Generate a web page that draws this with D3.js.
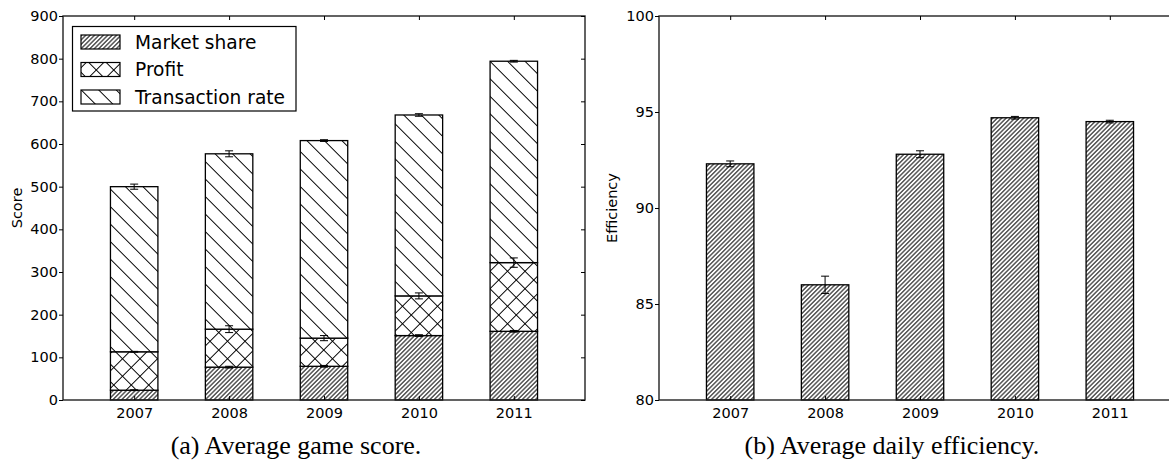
<!DOCTYPE html>
<html>
<head>
<meta charset="utf-8">
<script src="https://cdn.jsdelivr.net/npm/d3@7"></script>
<style>
  body { margin: 0; background: #fff; }
  svg { display: block; }
  text { font-family: "DejaVu Sans", sans-serif; }
  text.caption { font-family: "Liberation Serif", "Times New Roman", serif; }
</style>
</head>
<body>
<svg id="chart" width="1169" height="465"></svg>
<script>
// ---------- data ----------
const years = ["2007", "2008", "2009", "2010", "2011"];
const marketShare = [23, 77, 79, 151, 161];
const marketShareErr = [1, 2, 2, 2, 2];
const profit = [90, 89, 66, 93, 161];
const profitErr = [1, 8, 6, 7, 11];
const transactionRate = [387, 411, 463, 424, 472];
const transactionErr = [6, 7, 2, 3, 2];
const seriesNames = ["Market share", "Profit", "Transaction rate"];
const scoreTicks = [0, 100, 200, 300, 400, 500, 600, 700, 800, 900];

const efficiency = [92.3, 86.0, 92.8, 94.7, 94.5];
const efficiencyErr = [0.15, 0.45, 0.18, 0.07, 0.07];
const efficiencyTicks = [80, 85, 90, 95, 100];

// ---------- setup ----------
const svg = d3.select("#chart");
svg.append("rect").attr("width", 1169).attr("height", 465).attr("fill", "#fff");
const defs = svg.append("defs");

function hatch(id, period, angle, cross) {
  const s = period / Math.SQRT2;
  const p = defs.append("pattern")
    .attr("id", id)
    .attr("patternUnits", "userSpaceOnUse")
    .attr("width", s).attr("height", s)
    .attr("patternTransform", `rotate(${angle})`);
  p.append("rect").attr("width", s).attr("height", s).attr("fill", "#fff");
  p.append("line").attr("x1", 0).attr("x2", s).attr("y1", s / 2).attr("y2", s / 2)
    .attr("stroke", "#000").attr("stroke-width", 1);
  if (cross) {
    p.append("line").attr("y1", 0).attr("y2", s).attr("x1", s / 2).attr("x2", s / 2)
      .attr("stroke", "#000").attr("stroke-width", 1);
  }
}
hatch("hDense", 4.4, -45, false);
hatch("hCross", 17.5, 45, true);
hatch("hBack", 17.5, 45, false);
const fills = ["url(#hDense)", "url(#hCross)", "url(#hBack)"];

const idx = years.map((d, i) => i);
const barW = 0.5;

function drawFrame(g, x0, x1, y0, y1) {
  g.append("rect").attr("x", x0).attr("y", y0).attr("width", x1 - x0).attr("height", y1 - y0)
    .attr("fill", "none").attr("stroke", "#222").attr("stroke-width", 1.4);
}

function axes(g, x, y, yTicks, fmt) {
  const [x0, x1] = x.range();
  const [y1, y0] = y.range();
  const xa = g.append("g").attr("transform", `translate(0,${y1})`)
    .call(d3.axisBottom(x).tickValues(idx).tickFormat(i => years[i]).tickSize(-4).tickPadding(8).tickSizeOuter(0));
  xa.select(".domain").remove();
  xa.selectAll("text").attr("font-size", "14.5px").attr("fill", "#000");
  xa.selectAll("line").attr("stroke", "#000");
  const xt = g.append("g").attr("transform", `translate(0,${y0})`)
    .call(d3.axisTop(x).tickValues(idx).tickFormat("").tickSize(-4).tickSizeOuter(0));
  xt.select(".domain").remove();
  xt.selectAll("line").attr("stroke", "#000");
  const ya = g.append("g").attr("transform", `translate(${x0},0)`)
    .call(d3.axisLeft(y).tickValues(yTicks).tickFormat(fmt).tickSize(4).tickPadding(1).tickSizeOuter(0));
  ya.select(".domain").remove();
  ya.selectAll("text").attr("font-size", "14.5px").attr("fill", "#000");
  ya.selectAll("line").attr("stroke", "#000");
  const yr = g.append("g").attr("transform", `translate(${x1},0)`)
    .call(d3.axisRight(y).tickValues(yTicks).tickFormat("").tickSize(-4).tickSizeOuter(0));
  yr.select(".domain").remove();
  yr.selectAll("line").attr("stroke", "#000");
}

function errBars(g, x, y, tops, errs) {
  const e = g.append("g").attr("stroke", "#000").attr("stroke-width", 1);
  idx.forEach(i => {
    const cx = x(i), lo = y(tops[i] - errs[i]), hi = y(tops[i] + errs[i]);
    e.append("line").attr("x1", cx).attr("x2", cx).attr("y1", lo).attr("y2", hi);
    e.append("line").attr("x1", cx - 4).attr("x2", cx + 4).attr("y1", lo).attr("y2", lo);
    e.append("line").attr("x1", cx - 4).attr("x2", cx + 4).attr("y1", hi).attr("y2", hi);
  });
}

// ---------- chart (a) ----------
{
  const g = svg.append("g");
  const x = d3.scaleLinear().domain([-0.75, 4.75]).range([63, 585]);
  const y = d3.scaleLinear().domain([0, 900]).range([400, 16]);
  const series = [marketShare, profit, transactionRate];
  const errs = [marketShareErr, profitErr, transactionErr];
  const stack = d3.stack().keys([0, 1, 2]).value((d, k) => series[k][d])(idx);
  stack.forEach((layer, k) => {
    g.append("g").selectAll("rect").data(layer).join("rect")
      .attr("x", (d, i) => x(i - barW / 2))
      .attr("width", x(barW) - x(0))
      .attr("y", d => y(d[1]))
      .attr("height", d => y(d[0]) - y(d[1]))
      .attr("fill", fills[k])
      .attr("stroke", "#000").attr("stroke-width", 1.3);
  });
  stack.forEach((layer, k) => {
    errBars(g, x, y, layer.map(d => d[1]), errs[k]);
  });
  drawFrame(g, 63, 585, 16, 400);
  axes(g, x, y, scoreTicks, d3.format("d"));
  g.append("text").attr("transform", "translate(17,208) rotate(-90)")
    .attr("text-anchor", "middle").attr("dominant-baseline", "central")
    .attr("font-size", "14.5px").attr("fill", "#000").text("Score");

  const lg = g.append("g");
  lg.append("rect").attr("x", 72.5).attr("y", 26.5).attr("width", 223.5).attr("height", 84.5)
    .attr("fill", "#fff").attr("stroke", "#000").attr("stroke-width", 1.2);
  seriesNames.forEach((name, k) => {
    const cy = 42 + k * 27.5;
    lg.append("rect").attr("x", 81).attr("y", cy - 7).attr("width", 39).attr("height", 14)
      .attr("fill", fills[k]).attr("stroke", "#000").attr("stroke-width", 1.2);
    lg.append("text").attr("x", 135).attr("y", cy).attr("dominant-baseline", "central")
      .attr("font-size", "18.6px").text(name);
  });

  svg.append("text").attr("class", "caption").attr("x", 296).attr("y", 454).attr("text-anchor", "middle")
    .attr("font-size", "26px").text("(a) Average game score.");
}

// ---------- chart (b) ----------
{
  const g = svg.append("g");
  const x = d3.scaleLinear().domain([-0.75, 4.75]).range([659, 1181]);
  const y = d3.scaleLinear().domain([80, 100]).range([400, 16]);
  g.append("g").selectAll("rect").data(efficiency).join("rect")
    .attr("x", (d, i) => x(i - barW / 2))
    .attr("width", x(barW) - x(0))
    .attr("y", d => y(d))
    .attr("height", d => y(80) - y(d))
    .attr("fill", fills[0])
    .attr("stroke", "#000").attr("stroke-width", 1.3);
  errBars(g, x, y, efficiency, efficiencyErr);
  drawFrame(g, 659, 1181, 16, 400);
  axes(g, x, y, efficiencyTicks, d3.format("d"));
  g.append("text").attr("transform", "translate(612,208) rotate(-90)")
    .attr("text-anchor", "middle").attr("dominant-baseline", "central")
    .attr("font-size", "14.5px").attr("fill", "#000").text("Efficiency");

  svg.append("text").attr("class", "caption").attr("x", 892).attr("y", 454).attr("text-anchor", "middle")
    .attr("font-size", "26px").text("(b) Average daily efficiency.");
}
</script>
</body>
</html>
